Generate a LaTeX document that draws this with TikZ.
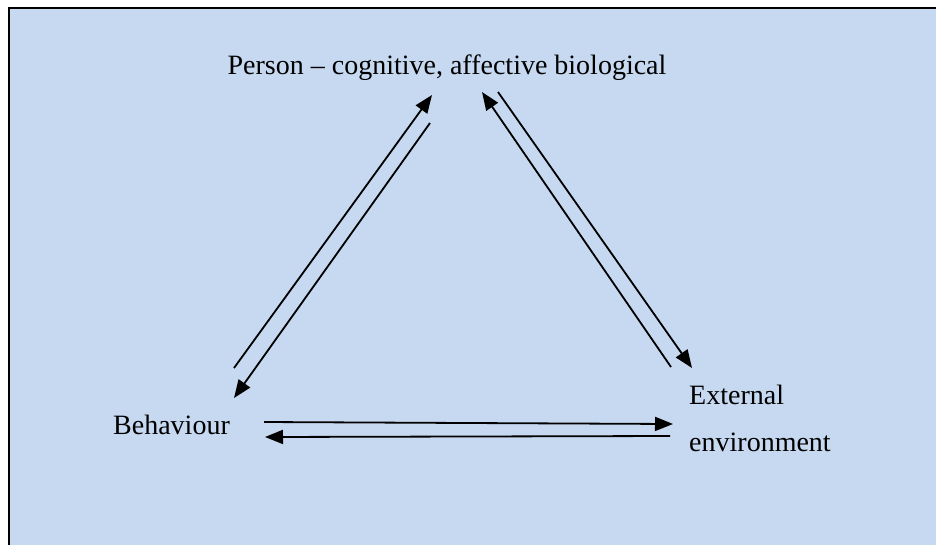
\documentclass[tikz,border=0pt]{standalone}
\usepackage{fontspec}
\setmainfont{Liberation Serif}
\usepackage{tikz}
\usetikzlibrary{arrows.meta}
\definecolor{paleblue}{RGB}{198,217,240}

\begin{document}
\begin{tikzpicture}[x=1pt,y=-1pt]
\tikzstyle{label}=[rectangle,inner sep=0pt,font=\fontsize{28}{32}\selectfont]
\tikzstyle{link}=[line width=1.8pt,-{Triangle[length=18pt,width=14pt]}]
\useasboundingbox (0,0) rectangle (936,544);
\fill [paleblue] (9,8) rectangle (940,548);
\draw [line width=2pt] (940,8) -- (9,8) -- (9,548);
\node [label] (person) at (447,68) {Person -- cognitive, affective biological};
\node [label,anchor=west] (behav) at (113,425) {Behaviour};
\node [label,anchor=west] (ext) at (689,395) {External};
\node [label,anchor=west] (env) at (689,442) {environment};
% end points of the arrows
\coordinate (b1) at (234,368);
\coordinate (p1) at (432,95);
\coordinate (p2) at (430,123);
\coordinate (b2) at (234,398);
\coordinate (e1) at (671,367);
\coordinate (p3) at (482,92);
\coordinate (p4) at (498,92);
\coordinate (e2) at (692,368);
\coordinate (b3) at (264,422);
\coordinate (e3) at (673,424);
\coordinate (e4) at (670,436);
\coordinate (b4) at (265,437);
\draw [link] (b1) -- (p1);
\draw [link] (p2) -- (b2);
\draw [link] (e1) -- (p3);
\draw [link] (p4) -- (e2);
\draw [link] (b3) -- (e3);
\draw [link] (e4) -- (b4);
\end{tikzpicture}
\end{document}
